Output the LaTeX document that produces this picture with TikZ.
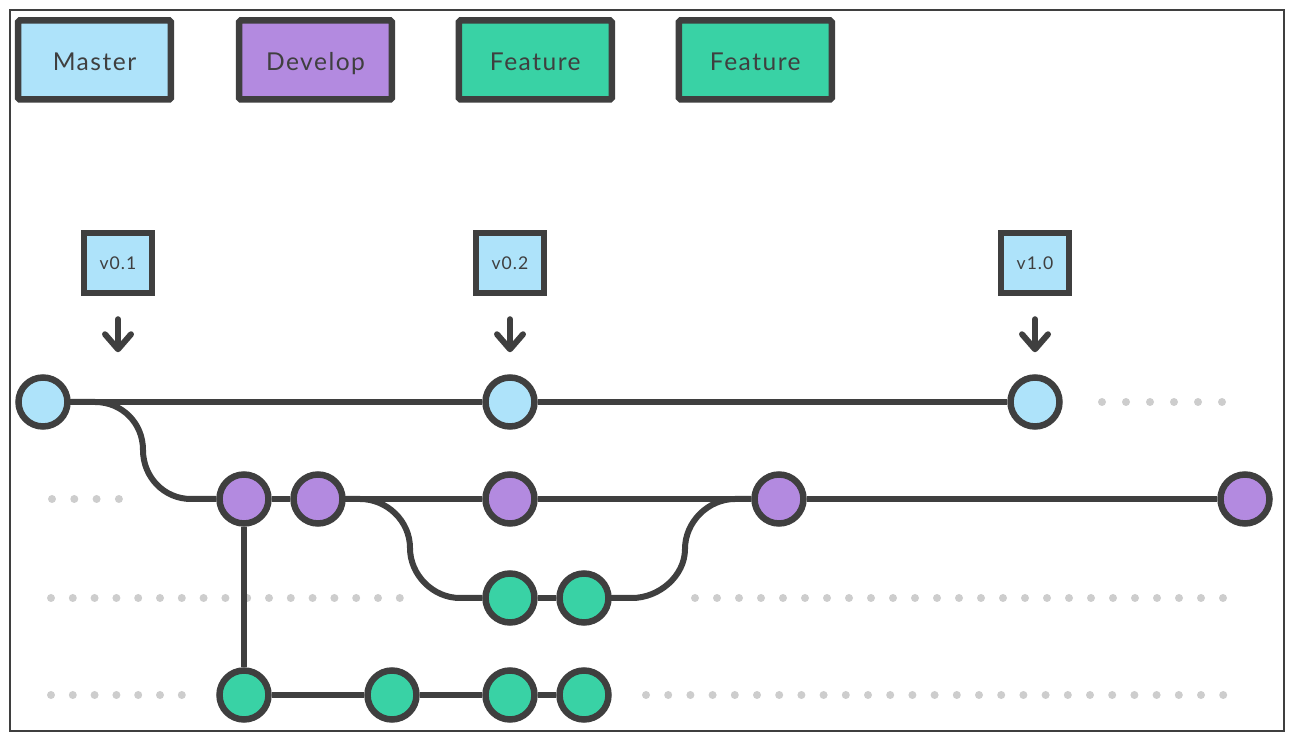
\documentclass[tikz,border=0pt]{standalone}
\usepackage{fontspec}
\setmainfont{Lato}[LetterSpace=6]
\usetikzlibrary{arrows.meta,backgrounds}
\definecolor{mblue}{HTML}{AEE3FA}
\definecolor{dpurple}{HTML}{B38AE0}
\definecolor{fgreen}{HTML}{39D2A5}
\definecolor{ink}{HTML}{3F3F3F}
\definecolor{dotgray}{HTML}{CDCDCD}
\begin{document}
\begin{tikzpicture}[x=0.02cm, y=-0.02cm,
  legend/.style={draw=ink, line width=0.13cm, rounded corners=1pt, minimum width=3.06cm, minimum height=1.58cm, inner sep=0pt, text height=0.42cm, text depth=0pt, text=ink, font=\fontsize{14}{16}\selectfont},
  tag/.style={draw=ink, line width=0.13cm, fill=mblue, minimum width=1.36cm, minimum height=1.2cm, inner sep=0pt, text height=0.28cm, text depth=0pt, text=ink, font=\fontsize{10}{12}\selectfont},
  commit/.style={circle, draw=ink, line width=0.13cm, minimum size=0.98cm, inner sep=0pt},
  branch/.style={ink, line width=0.12cm},
  tagarrow/.style={ink, line width=0.12cm, line cap=round, -{Straight Barb[length=0.3cm, width=0.52cm, round]}},
  dot/.style={fill=dotgray}]

\useasboundingbox (0,0) rectangle (1295,742);
\draw [ink, line width=0.8pt] (10,10) rectangle (1284,731);

\node [legend, fill=mblue] (lmaster) at (94.5,60) {Master};
\node [legend, fill=dpurple] (ldevelop) at (315.5,60) {Develop};
\node [legend, fill=fgreen] (lfeature1) at (535.3,60) {Feature};
\node [legend, fill=fgreen] (lfeature2) at (755.3,60) {Feature};

\node [tag] (t1) at (118,263) {v0.1};
\node [tag] (t2) at (510,263) {v0.2};
\node [tag] (t3) at (1035,263) {v1.0};
\draw [tagarrow] (t1.south) ++(0,23) -- ++(0,33);
\draw [tagarrow] (t2.south) ++(0,23) -- ++(0,33);
\draw [tagarrow] (t3.south) ++(0,23) -- ++(0,33);

\node [commit, fill=mblue] (m1) at (43,402) {};
\node [commit, fill=mblue] (m2) at (510,402) {};
\node [commit, fill=mblue] (m3) at (1035,402) {};

\node [commit, fill=dpurple] (d1) at (244,499) {};
\node [commit, fill=dpurple] (d2) at (318,499) {};
\node [commit, fill=dpurple] (d3) at (510,499) {};
\node [commit, fill=dpurple] (d4) at (779,499) {};
\node [commit, fill=dpurple] (d5) at (1245,499) {};

\node [commit, fill=fgreen] (f1) at (510,598) {};
\node [commit, fill=fgreen] (f2) at (584,598) {};

\node [commit, fill=fgreen] (g1) at (244,695) {};
\node [commit, fill=fgreen] (g2) at (392,695) {};
\node [commit, fill=fgreen] (g3) at (510,695) {};
\node [commit, fill=fgreen] (g4) at (584,695) {};

\begin{scope}[on background layer]
\foreach \i in {0,...,5} \fill [dot] (1102+24*\i,402) circle (0.08cm);
\foreach \i in {0,...,3} \fill [dot] (52+22.3*\i,499) circle (0.08cm);
\foreach \i in {0,...,16} \fill [dot] (51+21.8*\i,598) circle (0.08cm);
\foreach \i in {0,...,24} \fill [dot] (695+22*\i,598) circle (0.08cm);
\foreach \i in {0,...,6} \fill [dot] (51+21.8*\i,695) circle (0.08cm);
\foreach \i in {0,...,26} \fill [dot] (646+22.2*\i,695) circle (0.08cm);

\draw [branch] (m1) -- (m2) -- (m3);
\draw [branch] (d1) -- (d2) -- (d3) -- (d4) -- (d5);
\draw [branch] (f1) -- (f2);
\draw [branch] (g1) -- (g2) -- (g3) -- (g4);
\draw [branch] (d1) -- (g1);
\draw [branch] (m1.center) -- ++(52,0) .. controls +(27,0) and +(0,-27) .. ++(48,48) .. controls +(0,27) and +(-27,0) .. ++(48,49) -- (d1);
\draw [branch] (d2.center) -- ++(42,0) .. controls +(27,0) and +(0,-27) .. ++(50,49) .. controls +(0,27) and +(-27,0) .. ++(50,50) -- (f1);
\draw [branch] (f2.center) -- ++(48,0) .. controls +(27,0) and +(0,27) .. ++(53,-49) .. controls +(0,-27) and +(-27,0) .. ++(50,-50) -- (d4);
\end{scope}
\end{tikzpicture}
\end{document}
